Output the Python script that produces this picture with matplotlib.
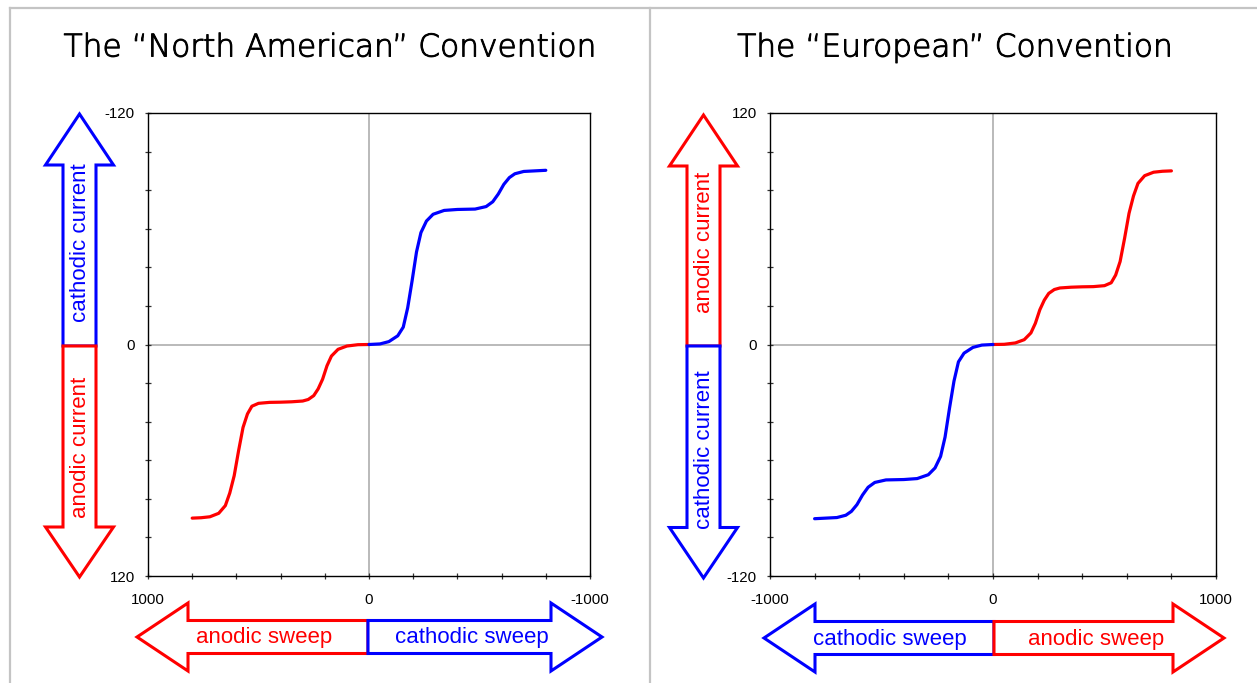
import matplotlib
matplotlib.use('Agg')
import matplotlib.pyplot as plt
import matplotlib.patheffects as pe
from matplotlib.patches import Polygon
from matplotlib.lines import Line2D
from matplotlib.ticker import FixedLocator, MultipleLocator

# ---------------- data ----------------
anodic_E = [0, 50, 100, 140, 170, 190, 210, 230, 250, 275, 300, 350, 400, 450,
            500, 530, 550, 570, 590, 610, 630, 650, 680, 720, 760, 800]
anodic_I = [0, 0.1, 0.8, 2.5, 6, 11, 18, 23, 26.5, 28.5, 29.3, 29.7, 29.9, 30,
            30.5, 32, 36, 43, 55, 68, 77, 83.5, 87.5, 89.3, 89.8, 90]
cathodic_E = [0, -50, -90, -130, -155, -175, -195, -215, -235, -260, -290, -340,
              -400, -480, -530, -560, -585, -610, -635, -660, -700, -750, -800]
cathodic_I = [0, -0.3, -1.5, -4.5, -9, -19, -33, -48, -58, -64, -67.5, -69.5,
              -70, -70.2, -71.5, -74, -78, -83, -86.5, -88.5, -89.7, -90, -90.3]

titles = ['The \u201cNorth American\u201d Convention', 'The \u201cEuropean\u201d Convention']
x_major = [-1000, 0, 1000]
y_major = [-120, 0, 120]
x_minor_step = 200
y_minor_step = 20

RED = '#ff0000'
BLUE = '#0000ff'

plt.rcParams['font.family'] = ['Liberation Sans', 'DejaVu Sans']
plt.rcParams['axes.unicode_minus'] = False

W, H = 1257, 683
fig = plt.figure(figsize=(W / 100, H / 100), dpi=100)
fig.patch.set_facecolor('white')

# overlay in pixel coordinates for decorations
ov = fig.add_axes([0, 0, 1, 1], zorder=0)
ov.set_xlim(0, W)
ov.set_ylim(H, 0)
ov.axis('off')
ov.patch.set_alpha(0)


def px_axes(x0, y0, x1, y1):
    return fig.add_axes([x0 / W, 1 - y1 / H, (x1 - x0) / W, (y1 - y0) / H], zorder=2)


def style_axes(ax, xlim, ylim):
    ax.plot(anodic_E, anodic_I, color=RED, lw=2.3, zorder=3, solid_capstyle='round')
    ax.plot(cathodic_E, cathodic_I, color=BLUE, lw=2.3, zorder=3, solid_capstyle='round')
    ax.axhline(0, color='#b4b4b4', lw=1.3, zorder=1)
    ax.axvline(0, color='#b4b4b4', lw=1.3, zorder=1)
    ax.set_xlim(*xlim)
    ax.set_ylim(*ylim)
    ax.xaxis.set_major_locator(FixedLocator(x_major))
    ax.yaxis.set_major_locator(FixedLocator(y_major))
    ax.xaxis.set_minor_locator(MultipleLocator(x_minor_step))
    ax.yaxis.set_minor_locator(MultipleLocator(y_minor_step))
    ax.tick_params(axis='both', which='both', direction='inout', length=5,
                   width=0.9, color='#333333', labelsize=10.8, labelcolor='black')
    ax.tick_params(axis='x', which='major', pad=10)
    ax.tick_params(axis='y', which='major', pad=7)
    for s in ax.spines.values():
        s.set_color('black')
        s.set_linewidth(1.0)
    ax.set_facecolor('none')


ax1 = px_axes(148, 113, 590, 576)
style_axes(ax1, (1000, -1000), (120, -120))
ax2 = px_axes(770, 113, 1216, 576)
style_axes(ax2, (-1000, 1000), (-120, 120))

# frame lines
for xs, ys in [((10, W), (8, 8)), ((10, 10), (8, H)), ((650, 650), (8, H))]:
    ov.add_line(Line2D(xs, ys, color='#c4c4c4', lw=1.6))

# titles
title_fx = [pe.withStroke(linewidth=0.7, foreground='black')]
ov.text(330, 48, titles[0], ha='center', va='center', fontsize=22.5,
        family=['DejaVu Sans'], fontweight='light', color='black',
        path_effects=title_fx)
ov.text(955, 48, titles[1], ha='center', va='center', fontsize=22.5,
        family=['DejaVu Sans'], fontweight='light', color='black',
        path_effects=title_fx)

SH = 16.5  # shaft half width
HH = 34    # head half width


def v_half(cx, y_mid, y_base, y_tip, color):
    pts = [(cx - SH, y_mid), (cx - SH, y_base), (cx - HH, y_base), (cx, y_tip),
           (cx + HH, y_base), (cx + SH, y_base), (cx + SH, y_mid)]
    ov.add_patch(Polygon(pts, closed=True, facecolor='white', edgecolor=color,
                         lw=2.2, joinstyle='miter'))


def h_half(cy, x_mid, x_base, x_tip, color):
    pts = [(x_mid, cy - SH), (x_base, cy - SH), (x_base, cy - HH), (x_tip, cy),
           (x_base, cy + HH), (x_base, cy + SH), (x_mid, cy + SH)]
    ov.add_patch(Polygon(pts, closed=True, facecolor='white', edgecolor=color,
                         lw=2.2, joinstyle='miter'))


FS = 16
# left panel arrows
v_half(79.5, 346, 165, 114, BLUE)
v_half(79.5, 346, 527, 577, RED)
ov.text(80, 243, 'cathodic current', rotation=90, ha='center', va='center',
        fontsize=FS, color=BLUE)
ov.text(80, 447, 'anodic current', rotation=90, ha='center', va='center',
        fontsize=FS, color=RED)
h_half(637, 368, 188, 137, RED)
h_half(637, 368, 551, 602, BLUE)
ov.text(264, 638, 'anodic sweep', ha='center', va='center', fontsize=FS, color=RED)
ov.text(472, 638, 'cathodic sweep', ha='center', va='center', fontsize=FS, color=BLUE)

# right panel arrows
v_half(703.5, 346, 166, 115, RED)
v_half(703.5, 346, 527.5, 578, BLUE)
ov.text(705, 242, 'anodic current', rotation=90, ha='center', va='center',
        fontsize=FS, color=RED)
ov.text(705, 450, 'cathodic current', rotation=90, ha='center', va='center',
        fontsize=FS, color=BLUE)
h_half(638, 994, 815, 764, BLUE)
h_half(638, 994, 1173, 1224, RED)
ov.text(890, 639, 'cathodic sweep', ha='center', va='center', fontsize=FS, color=BLUE)
ov.text(1096, 639, 'anodic sweep', ha='center', va='center', fontsize=FS, color=RED)

fig.savefig('out.png', dpi=100, facecolor='white')
